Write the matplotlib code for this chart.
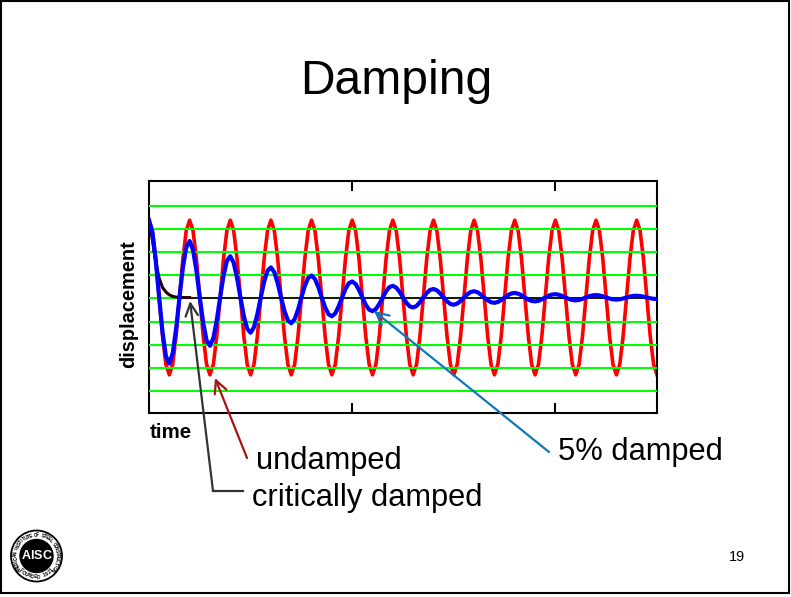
# -*- coding: utf-8 -*-
import numpy as np
import matplotlib
matplotlib.use("Agg")
import matplotlib.pyplot as plt
from matplotlib.patches import Circle, Rectangle

plt.rcParams['font.family'] = ['Liberation Sans', 'DejaVu Sans']

time = np.linspace(0, 5, 151)
undamped = [
    1.0, .866, .5, 0, -.5, -.866, -1.0, -.866, -.5, 0, .5, .866,
    1.0, .866, .5, 0, -.5, -.866, -1.0, -.866, -.5, 0, .5, .866,
    1.0, .866, .5, 0, -.5, -.866, -1.0, -.866, -.5, 0, .5, .866,
    1.0, .866, .5, 0, -.5, -.866, -1.0, -.866, -.5, 0, .5, .866,
    1.0, .866, .5, 0, -.5, -.866, -1.0, -.866, -.5, 0, .5, .866,
    1.0, .866, .5, 0, -.5, -.866, -1.0, -.866, -.5, 0, .5, .866,
    1.0, .866, .5, 0, -.5, -.866, -1.0, -.866, -.5, 0, .5, .866,
    1.0, .866, .5, 0, -.5, -.866, -1.0, -.866, -.5, 0, .5, .866,
    1.0, .866, .5, 0, -.5, -.866, -1.0, -.866, -.5, 0, .5, .866,
    1.0, .866, .5, 0, -.5, -.866, -1.0, -.866, -.5, 0, .5, .866,
    1.0, .866, .5, 0, -.5, -.866, -1.0, -.866, -.5, 0, .5, .866,
    1.0, .866, .5, 0, -.5, -.866, -1.0, -.866, -.5, 0, .5, .866,
    1.0, .866, .5, 0, -.5, -.866, -1.0,
]
damped_5 = [
    1.0, .844, .475, 0, -.451, -.760, -.855, -.721, -.406, 0, .385, .650,
    .730, .616, .347, 0, -.329, -.555, -.624, -.526, -.296, 0, .281, .475,
    .533, .450, .253, 0, -.240, -.405, -.456, -.384, -.216, 0, .205, .346,
    .389, .328, .185, 0, -.175, -.296, -.333, -.280, -.158, 0, .150, .253,
    .284, .240, .135, 0, -.128, -.216, -.243, -.205, -.115, 0, .109, .185,
    .207, .175, .098, 0, -.093, -.157, -.177, -.149, -.084, 0, .080, .135,
    .151, .128, .072, 0, -.068, -.115, -.129, -.109, -.061, 0, .058, .098,
    .110, .093, .052, 0, -.050, -.084, -.094, -.079, -.045, 0, .042, .071,
    .081, .068, .038, 0, -.036, -.061, -.069, -.058, -.033, 0, .031, .052,
    .059, .050, .028, 0, -.027, -.045, -.050, -.043, -.024, 0, .023, .038,
    .043, .036, .020, 0, -.019, -.033, -.037, -.031, -.017, 0, .017, .028,
    .031, .027, .015, 0, -.014, -.024, -.027, -.023, -.013, 0, .012, .020,
    .023, .019, .011, 0, -.010, -.017, -.020,
]
critical_time = [0, .033, .067, .1, .133, .167, .2, .233, .267, .3, .333, .4]
critical = [1.0, .75, .45, .25, .13, .07, .035, .015, .005, 0, 0, 0]
settled_time = [.4, 5.0]
settled = [0, 0]
grid_levels = [-1.214, -.916, -.617, -.318, 0, .292, .59, .89, 1.185]
x_ticks = [2, 4]

W, H = 791, 597
fig = plt.figure(figsize=(W / 100, H / 100), dpi=100)

# whole slide in pixel coordinates for frame, text, arrows
bg = fig.add_axes([0, 0, 1, 1])
bg.set_xlim(0, W)
bg.set_ylim(H, 0)
bg.axis('off')
bg.add_patch(Rectangle((1, 1), 788, 592, fill=False, ec='black', lw=1.5))

bg.text(396, 82, "Damping", fontsize=34.6, ha='center', va='center')
bg.text(129, 304, "displacement", fontsize=14.4, fontweight='bold', rotation=90,
        ha='center', va='center')
bg.text(170.5, 433, "time", fontsize=14.8, fontweight='bold', ha='center', va='center')
bg.text(256, 461, "undamped", fontsize=22.2, ha='left', va='center')
bg.text(252, 498, "critically damped", fontsize=22.2, ha='left', va='center')
bg.text(558, 452, "5% damped", fontsize=22.2, ha='left', va='center')
bg.text(737, 557, "19", fontsize=10.4, ha='center', va='center')

# chart
ax = fig.add_axes([149 / W, 1 - 413 / H, 508 / W, 232 / H])
ax.set_xlim(0, 5)
ax.set_ylim(-1.494, 1.507)
ax.plot(time, undamped, color='#ff0000', lw=2.6, zorder=2)
for g in grid_levels:
    ax.axhline(g, color='#00ff00', lw=1.5, zorder=3)
ax.plot(settled_time, settled, color='#1a1a00', lw=1.4, zorder=4)
ax.plot(critical_time, critical, color='#2a0008', lw=2.2, zorder=4)
ax.plot(time, damped_5, color='#0000ff', lw=3, zorder=5)
ax.set_xticks(x_ticks)
ax.set_xticklabels([])
ax.set_yticks([])
ax.tick_params(axis='x', direction='in', top=True, bottom=True, length=7, width=1.5)
for s in ax.spines.values():
    s.set_linewidth(1.5)

# arrows on top of the chart
top = fig.add_axes([0, 0, 1, 1])
top.set_xlim(0, W)
top.set_ylim(H, 0)
top.axis('off')
top.patch.set_alpha(0)


def arrow(start, tip, color):
    top.annotate("", xy=tip, xytext=start,
                 arrowprops=dict(arrowstyle='->,head_length=0.9,head_width=0.45',
                                 color=color, lw=1.6, shrinkA=0, shrinkB=0))


arrow((247, 458), (215, 378), '#a81414')
arrow((213, 491), (190, 301), '#333333')
top.plot([213, 243], [491, 491], color='#333333', lw=1.6)
arrow((549, 452), (374, 311), '#0f78b8')

# AISC seal
cx, cy = 36.5, 556
top.add_patch(Circle((cx, cy), 25.5, fc='white', ec='black', lw=1.3))
top.add_patch(Circle((cx, cy), 16.5, fc='black', ec='black'))
for letter, dx in [("A", -10.5), ("I", -4.2), ("S", 1.8), ("C", 10.6)]:
    top.text(cx + dx, cy, letter, color='white', fontsize=9, fontweight='bold',
             ha='center', va='center')


def ring_text(s, mid_deg, step, r, flip):
    for i, ch in enumerate(s):
        a = mid_deg + (i - (len(s) - 1) / 2) * step * (1 if flip else -1)
        x = cx + r * np.cos(np.radians(a))
        y = cy - r * np.sin(np.radians(a))
        rot = a + 90 if flip else a - 90
        top.text(x, y, ch, fontsize=3.4, fontweight='bold', rotation=rot,
                 ha='center', va='center')


ring_text("AMERICAN INSTITUTE OF STEEL CONSTRUCTION", 90, 6.6, 21, False)
ring_text("FOUNDED 1921", 270, 8.5, 21, True)

fig.savefig("out.png", dpi=100)
